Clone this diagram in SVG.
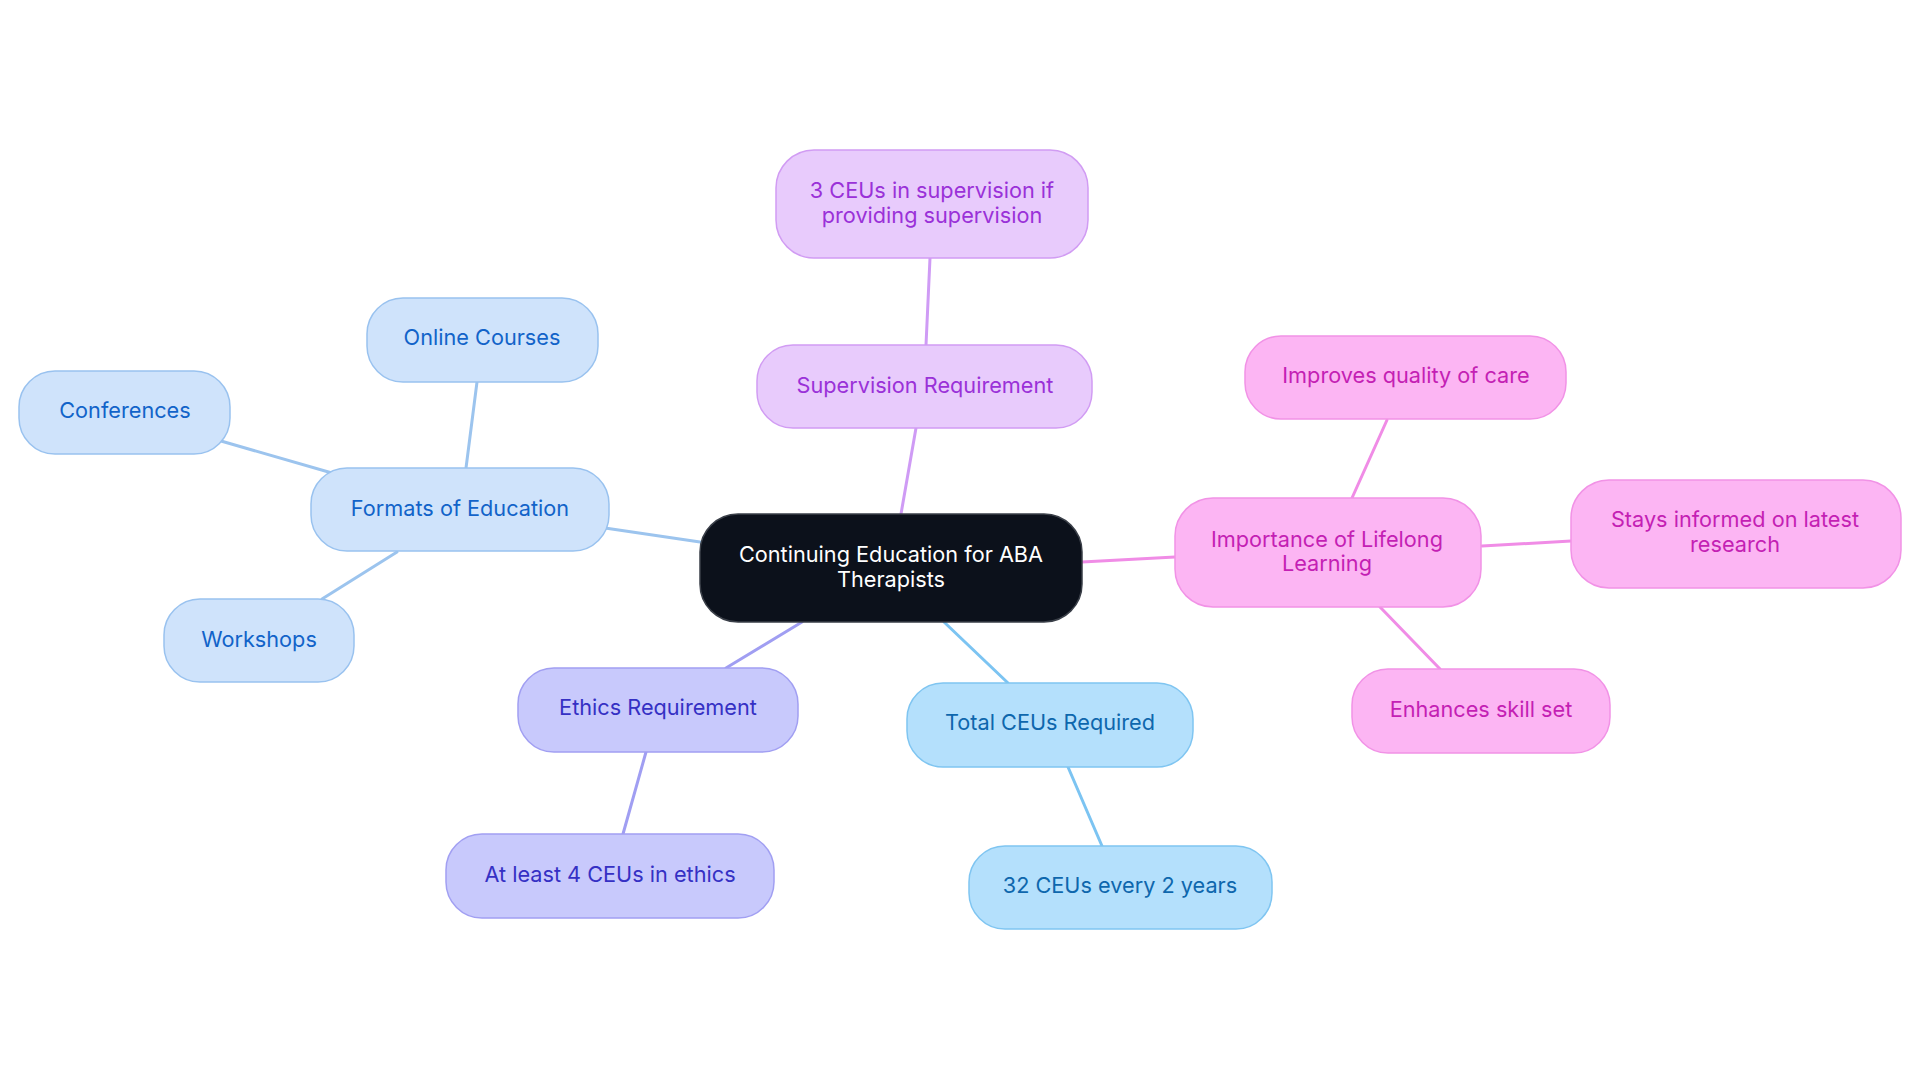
<svg xmlns="http://www.w3.org/2000/svg" width="1920" height="1083" viewBox="0 0 1920 1083">
<style>
text{font-family:Inter,"Liberation Sans",sans-serif;font-size:21.7px;text-anchor:middle}
.n rect{stroke-width:1.5}
.c line{stroke-width:3;stroke-linecap:round}
.root rect{fill:#0c111b;stroke:#3a3f48}
.root text{fill:#ffffff}
.fm rect{fill:#cfe3fb;stroke:#99c2ef}
.fm text{fill:#1263c9}
.sv rect{fill:#e8cbfc;stroke:#d19cf3}
.sv text{fill:#9a31d8}
.ll rect{fill:#fcb5f3;stroke:#f192e6}
.ll text{fill:#c41fb4}
.et rect{fill:#c8c9fc;stroke:#a19ff2}
.et text{fill:#3530c4}
.tc rect{fill:#b4e0fc;stroke:#7fc5f1}
.tc text{fill:#0e67ad}
</style>
<rect width="1920" height="1083" fill="#ffffff"/>
<g class="c" id="connectors">
<line x1="605" y1="528" x2="700" y2="542" stroke="#9cc4ee"/>
<line x1="221" y1="441" x2="332" y2="473" stroke="#9cc4ee"/>
<line x1="477" y1="382" x2="466" y2="468" stroke="#9cc4ee"/>
<line x1="397" y1="552" x2="322" y2="599" stroke="#9cc4ee"/>
<line x1="930" y1="258" x2="926" y2="345" stroke="#cf9bf5"/>
<line x1="916" y1="428" x2="901" y2="514" stroke="#cf9bf5"/>
<line x1="1082" y1="562" x2="1175" y2="557" stroke="#f08ce6"/>
<line x1="1352" y1="498" x2="1387" y2="420" stroke="#f08ce6"/>
<line x1="1482" y1="546" x2="1571" y2="541" stroke="#f08ce6"/>
<line x1="1380" y1="607" x2="1440" y2="669" stroke="#f08ce6"/>
<line x1="802" y1="622" x2="726" y2="668" stroke="#a09ef2"/>
<line x1="646" y1="752" x2="623" y2="834" stroke="#a09ef2"/>
<line x1="944" y1="622" x2="1008" y2="683" stroke="#7cc4f2"/>
<line x1="1068" y1="767" x2="1102" y2="846" stroke="#7cc4f2"/>
</g>
<g class="n root" id="root"><rect x="700" y="514" width="382" height="108" rx="38"/><text x="891" y="562">Continuing Education for ABA</text><text x="891" y="587">Therapists</text></g>
<g class="n fm" id="formats"><rect x="311" y="468" width="298" height="83" rx="36"/><text x="460" y="516">Formats of Education</text></g>
<g class="n fm" id="online"><rect x="367" y="298" width="231" height="84" rx="36"/><text x="482" y="345">Online Courses</text></g>
<g class="n fm" id="conferences"><rect x="19" y="371" width="211" height="83" rx="36"/><text x="125" y="418">Conferences</text></g>
<g class="n fm" id="workshops"><rect x="164" y="599" width="190" height="83" rx="36"/><text x="259" y="647">Workshops</text></g>
<g class="n sv" id="supervision"><rect x="757" y="345" width="335" height="83" rx="36"/><text x="925" y="393">Supervision Requirement</text></g>
<g class="n sv" id="ceus3"><rect x="776" y="150" width="312" height="108" rx="38"/><text x="932" y="198">3 CEUs in supervision if</text><text x="932" y="223">providing supervision</text></g>
<g class="n ll" id="lifelong"><rect x="1175" y="498" width="306" height="109" rx="38"/><text x="1327" y="547">Importance of Lifelong</text><text x="1327" y="571">Learning</text></g>
<g class="n ll" id="improves"><rect x="1245" y="336" width="321" height="83" rx="36"/><text x="1406" y="383">Improves quality of care</text></g>
<g class="n ll" id="stays"><rect x="1571" y="480" width="330" height="108" rx="38"/><text x="1735" y="527">Stays informed on latest</text><text x="1735" y="552">research</text></g>
<g class="n ll" id="enhances"><rect x="1352" y="669" width="258" height="84" rx="36"/><text x="1481" y="717">Enhances skill set</text></g>
<g class="n et" id="ethics"><rect x="518" y="668" width="280" height="84" rx="36"/><text x="658" y="715">Ethics Requirement</text></g>
<g class="n et" id="ethics4"><rect x="446" y="834" width="328" height="84" rx="36"/><text x="610" y="882">At least 4 CEUs in ethics</text></g>
<g class="n tc" id="total"><rect x="907" y="683" width="286" height="84" rx="36"/><text x="1050" y="730">Total CEUs Required</text></g>
<g class="n tc" id="ceus32"><rect x="969" y="846" width="303" height="83" rx="36"/><text x="1120" y="893">32 CEUs every 2 years</text></g>
</svg>
